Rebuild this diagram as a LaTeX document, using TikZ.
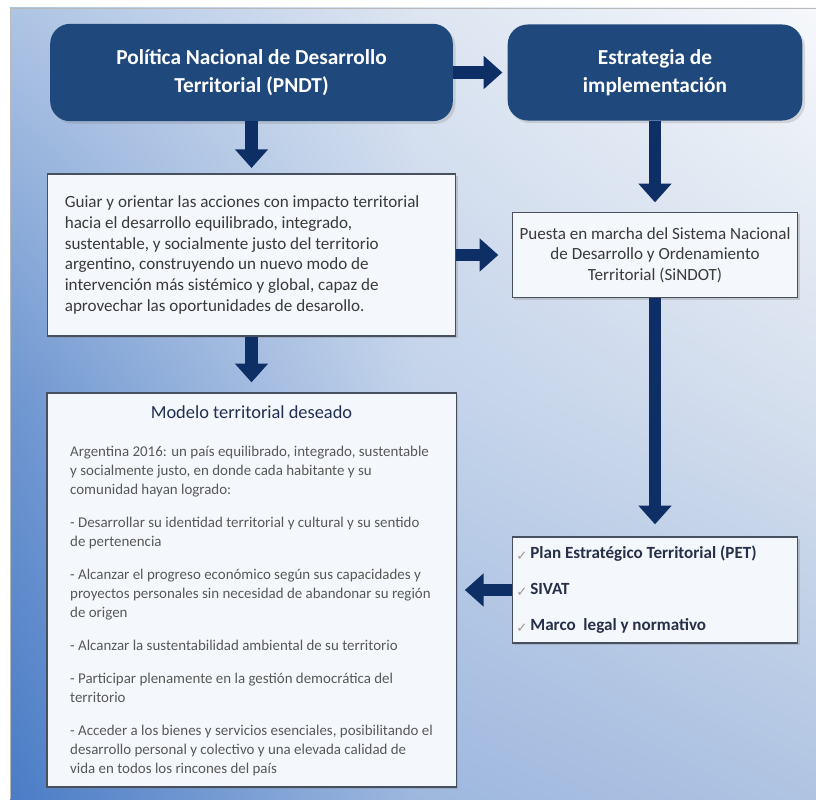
\documentclass[tikz,border=0pt]{standalone}
\usepackage{fontspec}
\setmainfont{Carlito}
\newfontfamily\checkfont{DejaVu Sans}
\usepackage{xcolor}
\usetikzlibrary{arrows.meta,shadows,shadings}

\definecolor{navybox}{HTML}{1F497D}
\definecolor{navyarrow}{HTML}{0E2E66}
\definecolor{boxline}{HTML}{46505E}
\definecolor{boxfill}{HTML}{F4F7FB}
\definecolor{textgray}{HTML}{3A3A3A}
\definecolor{bodygray}{HTML}{585858}
\definecolor{titlenavy}{HTML}{1F3050}
\definecolor{itemnavy}{HTML}{263048}
\definecolor{checkgray}{HTML}{9A9A9A}
% background grid colours
\definecolor{bgaa}{HTML}{AEC4E4}
\definecolor{bgba}{HTML}{DCE5F1}
\definecolor{bgca}{HTML}{F6F8FB}
\definecolor{bgab}{HTML}{6E96D0}
\definecolor{bgbb}{HTML}{C2D2EA}
\definecolor{bgcb}{HTML}{D6E0EE}
\definecolor{bgac}{HTML}{4A7CC6}
\definecolor{bgbc}{HTML}{9DB7DE}
\definecolor{bgcc}{HTML}{B0C4E2}

\newcommand{\itemtick}{{\checkfont\fontsize{10}{10}\selectfont\color{checkgray}\raisebox{-1pt}{✓}}\,}

\begin{document}
\begin{tikzpicture}[x=0.75pt,y=-0.75pt,
  every node/.style={execute at begin node={\spaceskip=0pt\xspaceskip=0pt}},
  darkbox/.style={fill=navybox, rounded corners=15pt, text=white, align=center,
    font=\fontsize{16}{21}\selectfont\bfseries,
    drop shadow={opacity=0.25, shadow xshift=2pt, shadow yshift=-2pt}},
  lightbox/.style={draw=boxline, line width=1pt, fill=boxfill,
    drop shadow={opacity=0.3, shadow xshift=1.5pt, shadow yshift=-1.5pt}},
  bigarrow/.style={navyarrow, line width=9.5pt, -{Triangle[width=24pt,length=14pt]}}]
\useasboundingbox (0,0) rectangle (816,799);

% background panel
\shade[upper left=bgaa, upper right=bgba, lower left=bgab, lower right=bgbb] (10,8) rectangle (413,400);
\shade[upper left=bgba, upper right=bgca, lower left=bgbb, lower right=bgcb] (413,8) rectangle (816,400);
\shade[upper left=bgab, upper right=bgbb, lower left=bgac, lower right=bgbc] (10,400) rectangle (413,799);
\shade[upper left=bgbb, upper right=bgcb, lower left=bgbc, lower right=bgcc] (413,400) rectangle (816,799);
\draw[gray!55, line width=0.6pt] (10,799) -- (10,8) -- (816,8);

% top row
\node[darkbox, minimum width=302pt, minimum height=73pt] (pndt) at (251.5,72.5)
  {Política Nacional de Desarrollo\\Territorial (PNDT)};
\node[darkbox, minimum width=221pt, minimum height=72pt] (estrategia) at (655,72.5)
  {Estrategia de\\implementación};

% middle row
\node[lightbox, text width=280pt, inner xsep=13pt, minimum height=121.5pt, align=left,
  text=textgray, font=\fontsize{12.8}{15.5}\selectfont] (guiar) at (251.5,255)
  {Guiar y orientar las acciones con impacto territorial\\
   hacia el desarrollo equilibrado, integrado,\\
   sustentable, y socialmente justo del territorio\\
   argentino, construyendo un nuevo modo de\\
   intervención más sistémico y global, capaz de\\
   aprovechar las oportunidades de desarollo.};
\node[lightbox, minimum width=214pt, minimum height=64pt, align=center,
  text=textgray, font=\fontsize{12.8}{15.4}\selectfont] (sindot) at (655,255)
  {Puesta en marcha del Sistema Nacional\\
   de Desarrollo y Ordenamiento\\
   Territorial (SiNDOT)};

% bottom row
\node[lightbox, minimum width=307pt, minimum height=295.5pt] (modelo) at (251.5,590) {};
\node[text=titlenavy, font=\fontsize{13.8}{16}\selectfont] (modelotit) at (251.5,412)
  {Modelo territorial deseado};
\node[align=left, text=bodygray, font=\fontsize{11.2}{14.25}\selectfont] (modelotxt) at (251.5,611)
  {Argentina 2016: un país equilibrado, integrado, sustentable\\
   y socialmente justo, en donde cada habitante y su\\
   comunidad hayan logrado:\\[10.5pt]
   - Desarrollar su identidad territorial y cultural y su sentido\\
   de pertenencia\\[10.5pt]
   - Alcanzar el progreso económico según sus capacidades y\\
   proyectos personales sin necesidad de abandonar su región\\
   de origen\\[10.5pt]
   - Alcanzar la sustentabilidad ambiental de su territorio\\[10.5pt]
   - Participar plenamente en la gestión democrática del\\
   territorio\\[10.5pt]
   - Acceder a los bienes y servicios esenciales, posibilitando el\\
   desarrollo personal y colectivo y una elevada calidad de\\
   vida en todos los rincones del país};
\node[lightbox, text width=208pt, inner xsep=3pt, minimum height=79.5pt, align=left,
  text=itemnavy, font=\fontsize{12.8}{15}\selectfont\bfseries] (instrumentos) at (655,590)
  {\itemtick Plan Estratégico Territorial (PET)\\[12pt]
   \itemtick SIVAT\\[12pt]
   \itemtick Marco\ \ legal y normativo};

% arrows
\draw[bigarrow, shorten >=3.75pt] (pndt) -- (estrategia);
\draw[bigarrow, shorten >=4pt] (pndt) -- (guiar);
\draw[bigarrow, shorten >=7pt] (estrategia) -- (sindot);
\draw[bigarrow, shorten >=10pt] (guiar) -- (sindot);
\draw[bigarrow, shorten >=7.5pt] (guiar) -- (modelo);
\draw[bigarrow, shorten >=9pt] (sindot) -- (instrumentos);
\draw[bigarrow, shorten >=6pt] (instrumentos) -- (modelo);

\end{tikzpicture}
\end{document}
